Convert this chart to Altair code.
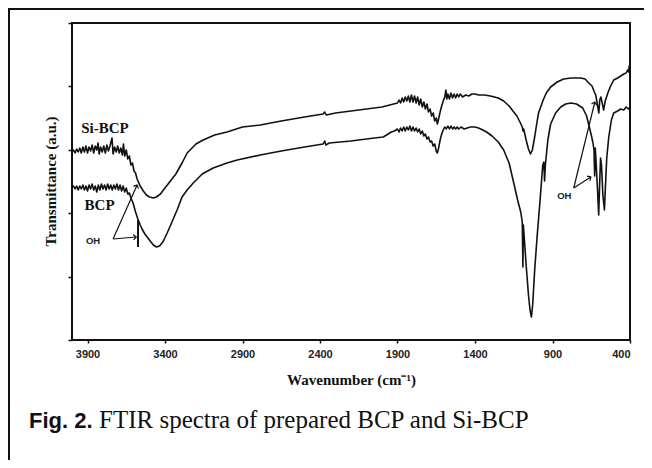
import altair as alt
import pandas as pd

# ---------------- data (transmittance in arbitrary units) -------------
sibcp_wn = [4000, 3990, 3980, 3970, 3960, 3950, 3940, 3930, 3920, 3910, 3900, 3890, 3880, 3870,
            3860, 3850, 3840, 3832, 3825, 3815, 3805, 3795, 3785, 3775, 3765, 3755, 3742, 3735,
            3725, 3715, 3705, 3695, 3685, 3675, 3668, 3660, 3650, 3640, 3630, 3620, 3610, 3600,
            3590, 3580, 3560, 3540, 3520, 3500, 3475, 3455, 3430, 3400, 3370, 3330, 3290, 3257,
            3200, 3154, 3080, 3000, 2900, 2785, 2650, 2500, 2380, 2370, 2360, 2300, 2150, 2000,
            1950, 1900, 1890, 1880, 1870, 1860, 1850, 1840, 1830, 1820, 1810, 1800, 1790, 1780,
            1770, 1760, 1750, 1740, 1730, 1720, 1710, 1700, 1690, 1680, 1670, 1660, 1650, 1643,
            1635, 1625, 1615, 1605, 1595, 1588, 1582, 1575, 1565, 1555, 1545, 1535, 1525, 1515,
            1505, 1495, 1480, 1460, 1440, 1420, 1400, 1377, 1340, 1300, 1250, 1215, 1180, 1150,
            1130, 1110, 1095, 1090, 1086, 1070, 1055, 1042, 1030, 1015, 1000, 990, 976, 960, 940,
            912, 870, 828, 780, 718, 690, 666, 645, 630, 621, 612, 601, 595, 588, 578, 570, 560,
            543, 525, 505, 480, 460, 440, 425, 415, 410, 405, 400]
sibcp_t = [188, 190, 187, 191, 188, 192, 187, 193, 188, 194, 187, 193, 189, 195,
           187, 194, 190, 197, 186, 193, 188, 194, 187, 195, 189, 194, 202, 186,
           193, 188, 194, 187, 192, 185, 196, 184, 190, 181, 184, 175, 177, 169,
           167, 161, 154, 149, 145, 143, 142, 143, 146, 152, 158, 166, 177, 187,
           196, 200, 205, 208, 213, 215, 219, 223, 226, 228, 225, 227, 230, 233,
           235, 237, 240, 237, 242, 238, 243, 239, 244, 238, 245, 238, 244, 237,
           243, 235, 241, 233, 238, 231, 236, 228, 231, 224, 227, 219, 222, 216,
           221, 228, 234, 239, 243, 250, 241, 246, 241, 247, 242, 246, 242, 246,
           243, 246, 243, 245, 244, 246, 246, 245, 245, 244, 242, 239, 234, 228,
           224, 218, 213, 209, 211, 200, 191, 186, 190, 203, 218, 227, 233, 240, 247,
           253, 258, 261, 262, 262, 261, 257, 254, 248, 245, 237, 227, 240, 243, 236, 230, 239,
           247, 254, 260, 262, 264, 266, 267, 270, 268, 274, 271]

bcp_wn = [4000, 3990, 3980, 3970, 3960, 3950, 3940, 3930, 3920, 3910, 3900, 3890, 3880, 3870,
          3860, 3850, 3840, 3830, 3820, 3810, 3800, 3790, 3780, 3770, 3760, 3750, 3740, 3730,
          3720, 3710, 3700, 3690, 3680, 3670, 3660, 3650, 3640, 3630, 3620, 3606, 3590, 3575,
          3560, 3548, 3530, 3510, 3496, 3475, 3455, 3435, 3410, 3386, 3355, 3322, 3290, 3257,
          3218, 3160, 3089, 3000, 2934, 2785, 2650, 2500, 2380, 2370, 2362, 2340, 2200, 2050,
          1992, 1960, 1940, 1920, 1900, 1890, 1880, 1870, 1860, 1850, 1840, 1830, 1820, 1810,
          1800, 1790, 1780, 1770, 1760, 1750, 1740, 1730, 1720, 1710, 1700, 1690, 1680, 1670,
          1660, 1650, 1643, 1636, 1625, 1615, 1605, 1595, 1585, 1575, 1565, 1555, 1545, 1535,
          1525, 1515, 1505, 1490, 1470, 1450, 1430, 1400, 1377, 1350, 1325, 1290, 1250, 1215,
          1180, 1150, 1125, 1105, 1095, 1091, 1088, 1082, 1070, 1055, 1045, 1036, 1028, 1015,
          1000, 989, 975, 963, 956, 951, 946, 930, 912, 880, 847, 815, 782, 745, 705, 680, 653,
          640, 632, 628, 624, 618, 610, 602, 596, 590, 584, 575, 565, 558, 550, 537, 520, 505,
          480, 460, 440, 425, 410, 400]
bcp_t = [152, 154, 151, 154, 150, 154, 151, 155, 150, 154, 149, 155, 151, 156,
         150, 154, 148, 155, 150, 156, 151, 155, 150, 156, 151, 155, 150, 155,
         151, 156, 150, 155, 149, 154, 148, 152, 146, 147, 142, 137, 128, 121,
         115, 111, 106, 102, 99, 95, 93, 94, 99, 107, 118, 130, 143, 150,
         157, 166, 172, 177, 180, 185, 189, 193, 196, 199, 195, 197, 199, 202,
         203, 206, 208, 209, 211, 208, 212, 209, 213, 209, 213, 210, 214, 209,
         213, 209, 212, 208, 211, 206, 209, 204, 206, 201, 203, 198, 199, 194,
         196, 189, 187, 191, 200, 206, 210, 213, 211, 214, 211, 214, 211, 213,
         211, 213, 211, 213, 211, 212, 213, 213, 212, 210, 208, 204, 198, 190,
         177, 157, 140, 128, 118, 73, 115, 102, 75, 45, 30, 23, 35, 70,
         102, 123, 150, 175, 178, 159, 175, 200, 216, 227, 233, 236, 237, 236, 232, 224, 207,
         198, 190, 164, 192, 175, 152, 125, 155, 182, 175, 145, 130, 155, 182, 203, 220, 227,
         229, 231, 230, 233, 231, 233]

x_ticks = [3900, 3400, 2900, 2400, 1900, 1400, 900, 400]
y_ticks = [0, 63.4, 126.8, 190.2, 253.6, 317]

# series labels
label_text = ["Si-BCP", "BCP"]
label_wn = [3787, 3822]
label_t = [212, 135]

# OH annotations: text and arrows (base -> tip)
oh_text_wn = [3864, 824]
oh_text_t = [99, 144]
arrow_base_wn = [3735, 3735, 763, 763]
arrow_base_t = [101, 101, 152, 152]
arrow_tip_wn = [3580, 3586, 653, 627]
arrow_tip_t = [155, 103, 163, 238]
arrow_angle = [24, 85, 57, 14]
mark_wn = [3574]
mark_t0 = [120]
mark_t1 = [93]

caption_bold = "Fig. 2."
caption_text = "FTIR spectra of prepared BCP and Si-BCP"

# ---------------- tables -------------
spec = pd.concat([
    pd.DataFrame({"wn": sibcp_wn, "t": sibcp_t, "s": "Si-BCP"}),
    pd.DataFrame({"wn": bcp_wn, "t": bcp_t, "s": "BCP"}),
])
labels = pd.DataFrame({"wn": label_wn, "t": label_t, "txt": label_text})
oh = pd.DataFrame({"wn": oh_text_wn, "t": oh_text_t, "txt": ["OH", "OH"]})
arrows = pd.DataFrame({"wn": arrow_base_wn, "t": arrow_base_t,
                       "wn2": arrow_tip_wn, "t2": arrow_tip_t, "ang": arrow_angle})
vmark = pd.DataFrame({"wn": mark_wn, "t": mark_t0, "t2": mark_t1})
one = pd.DataFrame({"k": [0]})

SERIF = "Palatino Linotype, Book Antiqua, Palatino, Liberation Serif, serif"
TIMES = "Times New Roman, Liberation Serif, serif"
SANS = "Arial, Liberation Sans, sans-serif"
INK = "#111111"

xscale = alt.Scale(domain=[400, 4000], reverse=True, nice=False, zero=False)
yscale = alt.Scale(domain=[0, 317], nice=False, zero=False)

xaxis = alt.Axis(values=x_ticks, format="d", grid=False, domain=False, tickSize=3,
                 tickColor=INK, tickWidth=1.5, labelFont=SANS, labelFontSize=11,
                 labelFontWeight="bold", labelColor="#222222", labelPadding=5,
                 title="Wavenumber (cm⁻¹)", titleFont=TIMES, titleFontSize=15,
                 titleFontWeight="bold", titleColor=INK, titleX=279, titleY=39,
                 titleBaseline="middle", titleAlign="center")
yaxis = alt.Axis(values=y_ticks, labels=False, grid=False, domain=False, tickSize=4,
                 tickColor=INK, tickWidth=1.5,
                 title="Transmittance  (a.u.)", titleFont=TIMES, titleFontSize=15,
                 titleFontWeight="bold", titleColor=INK, titleX=-22, titleY=158,
                 titleAngle=270, titleBaseline="middle", titleAlign="center")

lines = alt.Chart(spec).mark_line(color=INK, strokeWidth=1.6, strokeJoin="round").encode(
    x=alt.X("wn:Q", scale=xscale, axis=xaxis),
    y=alt.Y("t:Q", scale=yscale, axis=yaxis),
    detail="s:N",
)

lab = alt.Chart(labels).mark_text(font=TIMES, fontSize=15, fontWeight="bold",
                                  color=INK, align="center", baseline="middle").encode(
    x=alt.X("wn:Q", scale=xscale), y=alt.Y("t:Q", scale=yscale), text="txt:N")

ohlab = alt.Chart(oh).mark_text(font=SANS, fontSize=9.5, fontWeight="bold",
                                color="#222222", align="center", baseline="middle").encode(
    x=alt.X("wn:Q", scale=xscale), y=alt.Y("t:Q", scale=yscale), text="txt:N")

arrow_lines = alt.Chart(arrows).mark_rule(color=INK, strokeWidth=1.2).encode(
    x=alt.X("wn:Q", scale=xscale), y=alt.Y("t:Q", scale=yscale),
    x2="wn2:Q", y2="t2:Q")

arrow_heads = alt.Chart(arrows).mark_point(
    shape="M-1,1L0,0L1,1", filled=False, size=30, color=INK, strokeWidth=1.2, opacity=1
).encode(x=alt.X("wn2:Q", scale=xscale), y=alt.Y("t2:Q", scale=yscale),
         angle=alt.Angle("ang:Q", scale=None))

vline = alt.Chart(vmark).mark_rule(color=INK, strokeWidth=2).encode(
    x=alt.X("wn:Q", scale=xscale), y=alt.Y("t:Q", scale=yscale), y2="t2:Q")

# outer figure frame (left and top edges) and caption
frame_left = alt.Chart(one).mark_rule(color=INK, strokeWidth=2).encode(
    x=alt.value(-63), y=alt.value(-15), y2=alt.value(445))
frame_top = alt.Chart(one).mark_rule(color=INK, strokeWidth=2).encode(
    x=alt.value(-64), x2=alt.value(580), y=alt.value(-14))

cap1 = alt.Chart(one).mark_text(text=caption_bold, font=SANS, fontSize=22, fontWeight="bold",
                                color=INK, align="left", baseline="alphabetic").encode(
    x=alt.value(-43), y=alt.value(405))
cap2 = alt.Chart(one).mark_text(text=caption_text, font=SERIF, fontSize=25, color=INK,
                                align="left", baseline="alphabetic").encode(
    x=alt.value(27), y=alt.value(405))

chart = alt.layer(lines, vline, arrow_lines, arrow_heads, lab, ohlab,
                  frame_left, frame_top, cap1, cap2).properties(
    width=558, height=317,
    autosize=alt.AutoSizeParams(type="none"),
    padding={"left": 64, "top": 15, "right": 14, "bottom": 120},
    background="white",
).configure_view(stroke=INK, strokeWidth=2)

chart.save("out.html", embed_options={"renderer": "svg", "actions": False})
